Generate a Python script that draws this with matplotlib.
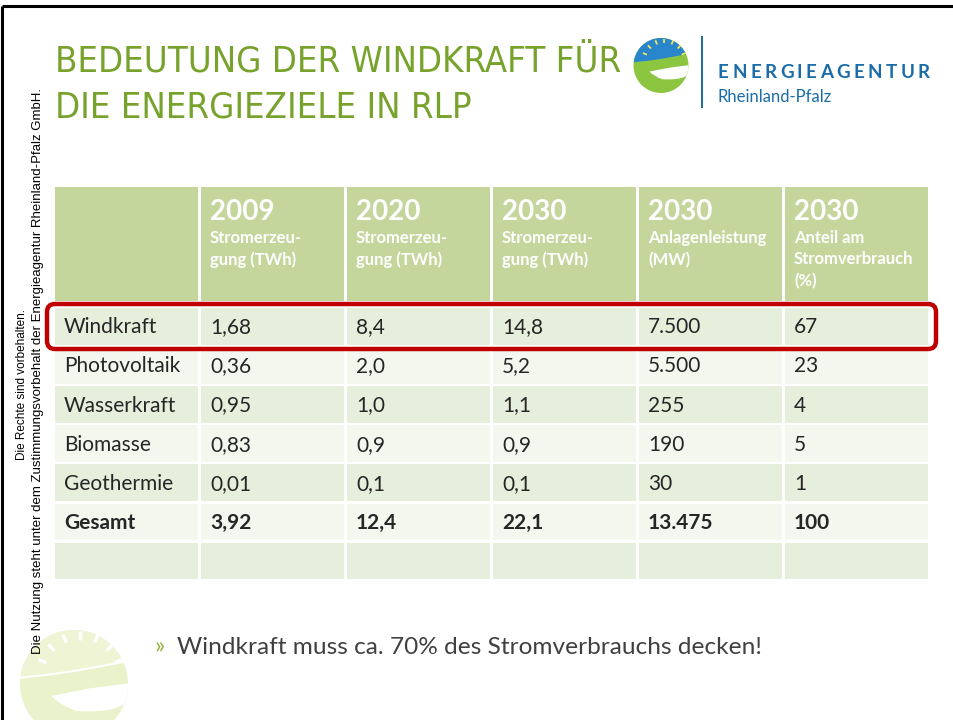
import matplotlib
matplotlib.use("Agg")
import matplotlib.pyplot as plt
from matplotlib.patches import Rectangle, FancyBboxPatch, Circle, Wedge, Polygon, PathPatch
from matplotlib.path import Path
from matplotlib import font_manager
from matplotlib.font_manager import FontProperties
import numpy as np

# ---------------- data ----------------
title_lines = ["BEDEUTUNG DER WINDKRAFT FÜR", "DIE ENERGIEZIELE IN RLP"]
col_years = ["2009", "2020", "2030", "2030", "2030"]
col_subs = ["Stromerzeu-\ngung (TWh)", "Stromerzeu-\ngung (TWh)", "Stromerzeu-\ngung (TWh)",
            "Anlagenleistung\n(MW)", "Anteil am\nStromverbrauch\n(%)"]
categories = ["Windkraft", "Photovoltaik", "Wasserkraft", "Biomasse", "Geothermie", "Gesamt", ""]
gen_2009 = ["1,68", "0,36", "0,95", "0,83", "0,01", "3,92", ""]
gen_2020 = ["8,4", "2,0", "1,0", "0,9", "0,1", "12,4", ""]
gen_2030 = ["14,8", "5,2", "1,1", "0,9", "0,1", "22,1", ""]
cap_2030 = ["7.500", "5.500", "255", "190", "30", "13.475", ""]
share_2030 = ["67", "23", "4", "5", "1", "100", ""]
bullet = "Windkraft muss ca. 70% des Stromverbrauchs decken!"
side_note = ["Die Rechte sind vorbehalten.",
             "Die Nutzung steht unter dem Zustimmungsvorbehalt der Energieagentur Rheinland-Pfalz GmbH."]
brand = ["ENERGIEAGENTUR", "Rheinland-Pfalz"]

columns = [categories, gen_2009, gen_2020, gen_2030, cap_2030, share_2030]

# ---------------- figure ----------------
W, H = 954, 720
fig = plt.figure(figsize=(W / 100, H / 100), dpi=100)
ax = fig.add_axes([0, 0, 1, 1])
ax.set_xlim(0, W)
ax.set_ylim(H, 0)
ax.axis("off")
renderer = fig.canvas.get_renderer()

FONT = "Lato"


def pick_title_font():
    best = None
    for f in font_manager.fontManager.ttflist:
        name = f.name
        st = str(f.stretch).lower()
        narrow = ("narrow" in name.lower() or "condensed" in name.lower()
                  or "condensed" in st or "narrow" in st)
        if not narrow or f.style != "normal":
            continue
        w = f.weight if isinstance(f.weight, (int, float)) else 400
        if w > 450:
            continue
        score = abs(w - 350)
        if best is None or score < best[0]:
            best = (score, f.fname)
    if best:
        return FontProperties(fname=best[1])
    return FontProperties(family=FONT)


title_fp = pick_title_font()
GREEN_T = "#77A22C"
HEAD = "#C4D69C"
ODD = "#E6EEDC"
EVEN = "#F3F7EE"
TXT = "#262626"

# slide frame
ax.plot([2, 2], [6, H], color="black", lw=2.2, solid_capstyle="butt")
ax.plot([2, W], [6, 6], color="black", lw=2.2, solid_capstyle="butt")


def draw_logo(cx, cy, r, sky, sun, green, ray, lens="white", horizon_line=None, z=3):
    def P(u, v):
        return (cx + u * r, cy + v * r)
    circ = Circle((cx, cy), r, facecolor=green, edgecolor="none", zorder=z)
    ax.add_patch(circ)
    sky_pts = [P(-1.2, -1.2), P(1.2, -1.2), P(1.2, -0.45), P(0.98, -0.42),
               P(0.5, -0.33), P(0.0, -0.24), P(-0.5, -0.17), P(-0.98, -0.12), P(-1.2, -0.11)]
    p = Polygon(sky_pts, closed=True, facecolor=sky, edgecolor="none", zorder=z + 0.1)
    ax.add_patch(p)
    p.set_clip_path(circ)
    sc = P(0.12, -0.14)
    clip_sky = Polygon(sky_pts, closed=True, facecolor="none", edgecolor="none")
    ax.add_patch(clip_sky)
    s = Wedge(sc, 0.56 * r, 0, 180, facecolor=sun, edgecolor="none", zorder=z + 0.2)
    ax.add_patch(s)
    s.set_clip_path(clip_sky)
    for ang in np.linspace(22, 158, 7):
        a = np.deg2rad(ang)
        ax.plot([sc[0] + 0.68 * r * np.cos(a), sc[0] + 0.84 * r * np.cos(a)],
                [sc[1] - 0.68 * r * np.sin(a), sc[1] - 0.84 * r * np.sin(a)],
                color=ray, lw=max(1.0, r / 22), zorder=z + 0.2, solid_capstyle="butt")
    if horizon_line:
        pts = [P(-0.98, -0.12), P(-0.5, -0.17), P(0.0, -0.24), P(0.5, -0.33), P(0.98, -0.42)]
        ax.plot([q[0] for q in pts], [q[1] for q in pts], color=horizon_line, lw=1.5, zorder=z + 0.3)
    verts = [P(-0.42, 0.22), P(0.3, 0.08), P(1.3, -0.05),
             P(1.3, 0.3), P(1.0, 0.3),
             P(0.85, 0.5), P(0.45, 0.52), P(0.05, 0.5),
             P(-0.25, 0.40), P(-0.42, 0.22), P(-0.42, 0.22)]
    codes = [Path.MOVETO, Path.LINETO, Path.LINETO,
             Path.LINETO, Path.LINETO,
             Path.CURVE4, Path.CURVE4, Path.CURVE4,
             Path.CURVE3, Path.CURVE3, Path.CLOSEPOLY]
    lp = PathPatch(Path(verts, codes), facecolor=lens, edgecolor="none", zorder=z + 0.3)
    ax.add_patch(lp)
    lp.set_clip_path(circ)


# watermark logo bottom-left
draw_logo(74, 684, 54, sky="#EEF4D4", sun="white", green="#EAF2CC", ray="white",
          horizon_line="white", z=1)
# main logo
draw_logo(661, 65.5, 27.5, sky="#2A86CC", sun="#F3EA55", green="#8CC540", ray="#F3EA55", z=3)

# title, size fitted so that the first line spans the reference width
t1 = ax.text(55, 62, title_lines[0], fontproperties=title_fp, fontsize=30,
             color=GREEN_T, va="center", ha="left")
w1 = t1.get_window_extent(renderer).width
tsize = min(34.0, 30 * 565.0 / w1)
t1.set_fontsize(tsize)
ax.text(55, 108, title_lines[1], fontproperties=title_fp, fontsize=tsize,
        color=GREEN_T, va="center", ha="left")

# brand
ax.plot([702, 702], [37, 107], color="#2A6E9E", lw=1.5)
chars = [ax.text(0, 73, ch, fontsize=13.5, family=FONT, fontweight="bold",
                 color="#1A6DA8", va="center", ha="left") for ch in brand[0]]
widths = [t.get_window_extent(renderer).width for t in chars]
extra = (212.0 - sum(widths)) / (len(chars) - 1)
xpos = 718.0
for t, w in zip(chars, widths):
    t.set_x(xpos)
    xpos += w + extra
ax.text(718, 97, brand[1], fontsize=12, family=FONT,
        color="#1A6DA8", va="center", ha="left")

# side note
ax.text(22, 385, side_note[0], rotation=90, fontsize=8.5, family="Liberation Sans",
        color="black", ha="center", va="center")
ax.text(38, 371, side_note[1], rotation=90, fontsize=9.5, family="Liberation Sans",
        color="black", ha="center", va="center")

# table geometry
x0, cw = 55, 146
ncol = len(columns)
head_top, head_bot = 187, 301
row_top, rh = 308, 39.1
gap = 2.5

# header
for j in range(ncol):
    ax.add_patch(Rectangle((x0 + j * cw, head_top), cw - gap, head_bot - head_top,
                           color=HEAD, lw=0, zorder=2))
    if j > 0:
        k = j - 1
        ax.text(x0 + j * cw + 9, 212, col_years[k], fontsize=20, family=FONT,
                fontweight="bold", color="white", va="center", ha="left", zorder=3)
        ax.text(x0 + j * cw + 9, 230, col_subs[k], fontsize=12, family=FONT,
                fontweight="bold", color="white", va="top", ha="left",
                linespacing=1.42, zorder=3)

# body
for i in range(len(categories)):
    y = row_top + i * rh
    col = ODD if i % 2 == 0 else EVEN
    bold = categories[i] == "Gesamt"
    for j in range(ncol):
        ax.add_patch(Rectangle((x0 + j * cw, y), cw - gap, rh - gap, color=col, lw=0, zorder=2))
        ax.text(x0 + j * cw + 9, y + (rh - gap) / 2 + 1, columns[j][i], fontsize=15,
                family=FONT, fontweight="bold" if bold else "normal",
                color=TXT, va="center", ha="left", zorder=3)

# red highlight box
ax.add_patch(FancyBboxPatch((47, 304), 889, 45, boxstyle="round,pad=0,rounding_size=8",
                            fill=False, edgecolor="#C00000", lw=3.2, zorder=5))

# bullet
ax.text(155, 647, "»", fontsize=17, family=FONT, color="#8DB33A", va="center", ha="left")
ax.text(177, 647, bullet, fontsize=17.6, family=FONT, color="#404040", va="center", ha="left")

fig.savefig("out.png", dpi=100)
